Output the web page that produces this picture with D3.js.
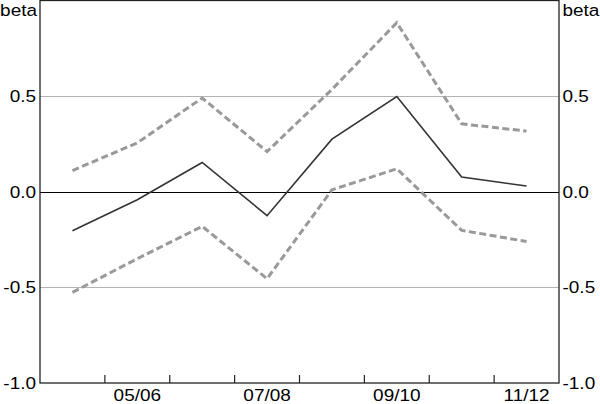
<!DOCTYPE html>
<html><head><meta charset="utf-8">
<script src="https://cdn.jsdelivr.net/npm/d3@7"></script>
<style>body{margin:0;background:#fff}text{font-family:"Liberation Sans",Arial,sans-serif}</style>
</head><body><svg id="c" width="600" height="404"></svg>
<script>
const categories = ["04/05","05/06","06/07","07/08","08/09","09/10","10/11","11/12"];
const tickLabels = ["05/06","07/08","09/10","11/12"];
const beta = [-0.204,-0.042,0.153,-0.125,0.275,0.498,0.077,0.030];
const upper = [0.111,0.256,0.490,0.210,0.535,0.884,0.355,0.317];
const lower = [-0.526,-0.350,-0.181,-0.455,0.010,0.120,-0.202,-0.260];
const yTicks = [-1.0,-0.5,0.0,0.5];

const svg = d3.select("#c");
const L=40, R=559, T=0.5, B=383;
const SX=1.15, FS=16.5;
const x = d3.scaleBand().domain(categories).range([L,R]);
const y = d3.scaleLinear().domain([-1,1]).range([B,T]);

svg.append("g").selectAll("line").data([-0.5,0.5]).join("line")
  .attr("x1",L).attr("x2",R).attr("y1",d=>Math.round(y(d))+0.5).attr("y2",d=>Math.round(y(d))+0.5)
  .attr("stroke","#b3b3b3").attr("stroke-width",1);
svg.append("line").attr("x1",L).attr("x2",R).attr("y1",Math.round(y(0))+0.5).attr("y2",Math.round(y(0))+0.5)
  .attr("stroke","#000").attr("stroke-width",1.2);

const line = d3.line().x((d,i)=>x(categories[i])+x.bandwidth()/2).y(d=>y(d));
[upper,lower].forEach(s=>{
  svg.append("path").attr("d",line(s)).attr("fill","none").attr("stroke","#999")
    .attr("stroke-width",3).attr("stroke-dasharray","7,3.5");
});
svg.append("path").attr("d",line(beta)).attr("fill","none").attr("stroke","#333").attr("stroke-width",1.6);

svg.append("rect").attr("x",L).attr("y",T).attr("width",R-L).attr("height",B-T)
  .attr("fill","none").attr("stroke","#222").attr("stroke-width",1.3);

const bounds = categories.slice(1).map(c=>x(c));
svg.append("g").selectAll("line").data(bounds).join("line")
  .attr("x1",d=>d).attr("x2",d=>d).attr("y1",B-8).attr("y2",B).attr("stroke","#222").attr("stroke-width",1.2);

function label(g, tx, ty, anchor, str, dy){
  g.append("text").attr("transform",`translate(${tx},${ty}) scale(${SX},1)`)
    .attr("text-anchor",anchor).attr("dy",dy||null).attr("font-size",FS).attr("fill","#000").text(str);
}
const gx = svg.append("g");
tickLabels.forEach(d=>label(gx, x(d)+x.bandwidth()/2, 401, "middle", d));

const fmt = d=>d3.format(".1f")(d).replace("\u2212","-");
const gy = svg.append("g");
yTicks.forEach(d=>{
  label(gy, 36, y(d), "end", fmt(d), "0.36em");
  label(gy, 562.5, y(d), "start", fmt(d), "0.36em");
});
label(gy, 37, 16, "end", "beta");
label(gy, 562.5, 16, "start", "beta");
</script></body></html>
